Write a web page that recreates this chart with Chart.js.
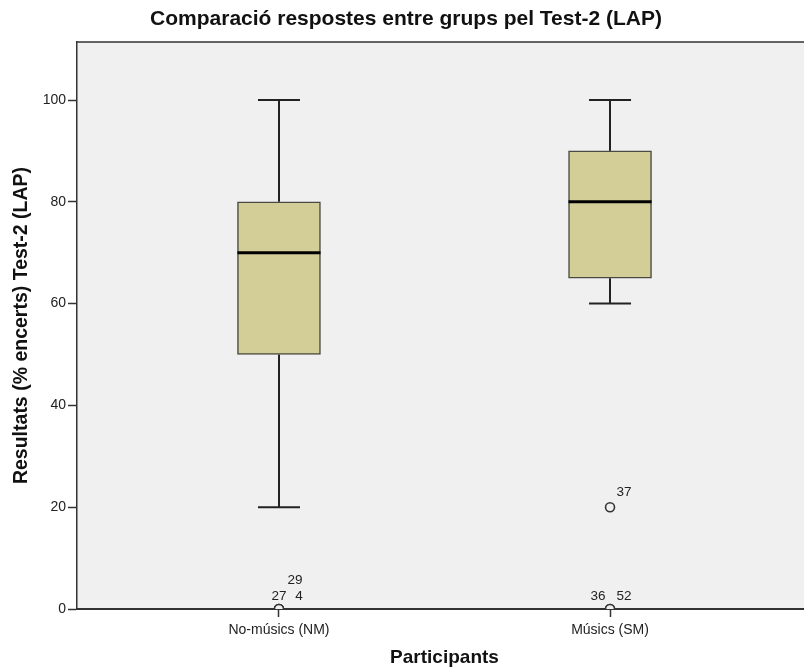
<!DOCTYPE html>
<html>
<head>
<meta charset="utf-8">
<script src="https://cdn.jsdelivr.net/npm/chart.js@4.4.1/dist/chart.umd.min.js"></script>
<style>
  html, body { margin: 0; padding: 0; background: #ffffff; overflow: hidden; }
  #wrap { width: 804px; height: 668px; overflow: hidden; position: relative; }
  canvas { display: block; }
</style>
</head>
<body>
<div id="wrap"><canvas id="c" width="830" height="668"></canvas></div>
<script>
// ---- data ----
const categories = ['No-músics (NM)', 'Músics (SM)'];
const whiskerMin = [20, 60];
const q1 = [50, 65];
const median = [70, 80];
const q3 = [80, 90];
const whiskerMax = [100, 100];
const outlierCategory = [0, 0, 0, 1, 1, 1];
const outlierValue = [0, 0, 0, 20, 0, 0];
const outlierId = ['27', '4', '29', '37', '36', '52'];
const yTicks = [0, 20, 40, 60, 80, 100];

// ---- styling ----
const labelOffsets = [[0, -13], [20, -13], [16, -29], [14, -15], [-12, -13], [14, -13]];
const FONT = "'Liberation Sans', Arial, sans-serif";
const AXIS = '#333333';

const xPos = categories.map((_, i) => i + 1);

const datasets = [];
// boxes
datasets.push({
  type: 'bar',
  data: xPos.map((x, i) => ({ x: x, y: [q1[i], q3[i]] })),
  backgroundColor: '#d3ce97',
  borderColor: '#4a4a40',
  borderWidth: 1.5,
  borderSkipped: false,
  barThickness: 83,
  grouped: false,
  order: 2
});
// whiskers
xPos.forEach((x, i) => {
  [[whiskerMin[i], q1[i]], [q3[i], whiskerMax[i]]].forEach(seg => {
    datasets.push({
      type: 'line',
      data: [{ x: x, y: seg[0] }, { x: x, y: seg[1] }],
      borderColor: '#222222',
      borderWidth: 2,
      pointRadius: 0,
      fill: false,
      order: 3
    });
  });
});
// caps
datasets.push({
  type: 'scatter',
  data: xPos.flatMap((x, i) => [{ x: x, y: whiskerMin[i] }, { x: x, y: whiskerMax[i] }]),
  pointStyle: 'line',
  pointRadius: 21,
  borderColor: '#222222',
  borderWidth: 2,
  order: 1
});
// medians
datasets.push({
  type: 'scatter',
  data: xPos.map((x, i) => ({ x: x, y: median[i] })),
  pointStyle: 'line',
  pointRadius: 41.5,
  borderColor: '#000000',
  borderWidth: 3,
  order: 0
});
// outliers
datasets.push({
  type: 'scatter',
  data: outlierValue.map((v, k) => ({ x: outlierCategory[k] + 1, y: v })),
  pointStyle: 'circle',
  pointRadius: 4.5,
  backgroundColor: '#f0f0f0',
  borderColor: '#333333',
  borderWidth: 1.6,
  clip: 0,
  order: 0
});

const bgPlugin = {
  id: 'bg',
  beforeDraw(chart) {
    const a = chart.chartArea, ctx = chart.ctx;
    ctx.save();
    ctx.fillStyle = '#f0f0f0';
    ctx.fillRect(a.left, a.top, a.right - a.left, a.bottom - a.top);
    ctx.restore();
  },
  afterDraw(chart) {
    const a = chart.chartArea, ctx = chart.ctx;
    ctx.save();
    ctx.strokeStyle = AXIS;
    ctx.lineWidth = 1.5;
    ctx.beginPath();
    ctx.moveTo(a.left, a.top);
    ctx.lineTo(a.right, a.top);
    ctx.stroke();
    ctx.restore();
  }
};

const labelPlugin = {
  id: 'outlierLabels',
  afterDatasetsDraw(chart) {
    const xs = chart.scales.x, ys = chart.scales.y, ctx = chart.ctx;
    ctx.save();
    ctx.font = '13.5px ' + FONT;
    ctx.fillStyle = '#222222';
    ctx.textAlign = 'center';
    ctx.textBaseline = 'middle';
    outlierId.forEach((id, k) => {
      const px = xs.getPixelForValue(outlierCategory[k] + 1);
      const py = ys.getPixelForValue(outlierValue[k]);
      ctx.fillText(id, px + labelOffsets[k][0], py + labelOffsets[k][1]);
    });
    ctx.restore();
  }
};

new Chart(document.getElementById('c'), {
  data: { datasets: datasets },
  options: {
    responsive: false,
    animation: false,
    events: [],
    layout: { autoPadding: false, padding: { left: 0, right: 18, top: 0, bottom: 0 } },
    plugins: {
      legend: { display: false },
      tooltip: { enabled: false },
      title: {
        display: true,
        text: 'Comparació respostes entre grups pel Test-2 (LAP)',
        color: '#111111',
        font: { family: FONT, size: 21, weight: 'bold', lineHeight: 1 },
        padding: { top: 9, bottom: 12 }
      }
    },
    scales: {
      x: {
        type: 'linear',
        min: 0.3899,
        max: 2.6101,
        offset: false,
        afterBuildTicks(scale) { scale.ticks = xPos.map(v => ({ value: v })); },
        afterFit(scale) { scale.height = 59; scale.paddingLeft = 0; scale.paddingRight = 0; },
        ticks: {
          autoSkip: false,
          maxRotation: 0,
          padding: 5,
          color: '#222222',
          font: { family: FONT, size: 14 },
          callback: (v) => categories[Math.round(v) - 1] || ''
        },
        grid: { offset: false, drawOnChartArea: false, drawTicks: true, tickLength: 8, color: AXIS, tickWidth: 1.5 },
        border: { display: true, color: AXIS, width: 2 },
        title: {
          display: true,
          text: 'Participants',
          color: '#111111',
          font: { family: FONT, size: 19, weight: 'bold', lineHeight: 1 },
          padding: { top: 0, bottom: 1 }
        }
      },
      y: {
        type: 'linear',
        min: 0,
        max: 111.4,
        afterBuildTicks(scale) { scale.ticks = yTicks.map(v => ({ value: v })); },
        afterFit(scale) { scale.width = 77; },
        ticks: {
          padding: 2,
          color: '#222222',
          font: { family: FONT, size: 14 }
        },
        grid: { drawOnChartArea: false, drawTicks: true, tickLength: 9, color: AXIS, tickWidth: 1.5 },
        border: { display: true, color: AXIS, width: 1.5 },
        title: {
          display: true,
          text: 'Resultats (% encerts) Test-2 (LAP)',
          color: '#111111',
          font: { family: FONT, size: 19.5, weight: 'bold', lineHeight: 1 },
          padding: { top: 12, bottom: 0 }
        }
      }
    }
  },
  plugins: [bgPlugin, labelPlugin]
});
</script>
</body>
</html>
